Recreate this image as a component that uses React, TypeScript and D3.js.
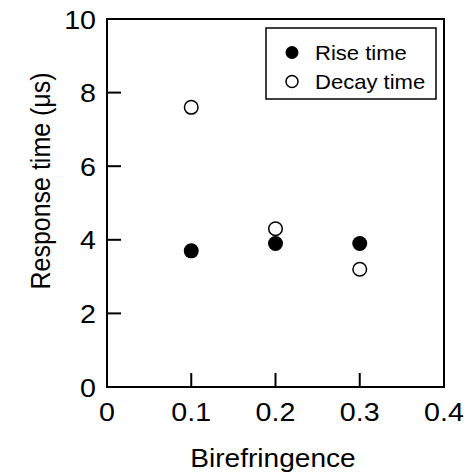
import React from "react";
import * as d3 from "d3";

const birefringence = [0.1, 0.2, 0.3];
const riseTime = [3.7, 3.9, 3.9];
const decayTime = [7.6, 4.3, 3.2];
const xTicks = [0, 0.1, 0.2, 0.3, 0.4];
const yTicks = [0, 2, 4, 6, 8, 10];
const seriesNames = ["Rise time", "Decay time"];

const W = 471;
const H = 476;
const left = 107;
const right = 444;
const top = 19;
const bottom = 387;
const FONT = "'Liberation Sans', Arial, Helvetica, sans-serif";
const SX = 1.08;

export default function App() {
  const x = d3.scaleLinear().domain([0, 0.4]).range([left, right]);
  const y = d3.scaleLinear().domain([0, 10]).range([bottom, top]);
  const tickLen = 14;
  const sw = 2;

  return (
    <svg
      width={W}
      height={H}
      style={{ position: "absolute", left: 0, top: 0, background: "#fff" }}
      fontFamily={FONT}
    >
      <rect x={0} y={0} width={W} height={H} fill="#fff" />
      {/* frame */}
      <rect
        x={left}
        y={top}
        width={right - left}
        height={bottom - top}
        fill="none"
        stroke="#000"
        strokeWidth={sw}
      />
      {/* x ticks */}
      {xTicks.map((t) => (
        <g key={"xt" + t}>
          <line x1={x(t)} x2={x(t)} y1={bottom} y2={bottom - tickLen} stroke="#000" strokeWidth={sw} />
          <text
            transform={`translate(${x(t)},421) scale(${SX},1)`}
            textAnchor="middle"
            fontSize={26.5}
            fill="#000"
          >
            {t === 0 ? "0" : d3.format(".1f")(t)}
          </text>
        </g>
      ))}
      {/* y ticks */}
      {yTicks.map((t) => (
        <g key={"yt" + t}>
          <line x1={left} x2={left + tickLen} y1={y(t)} y2={y(t)} stroke="#000" strokeWidth={sw} />
          <text
            transform={`translate(96,${y(t)}) scale(${SX},1)`}
            dy="0.36em"
            textAnchor="end"
            fontSize={26.5}
            fill="#000"
          >
            {t}
          </text>
        </g>
      ))}
      {/* axis titles */}
      <text
        transform={`translate(273,467) scale(${SX},1)`}
        textAnchor="middle"
        fontSize={26}
        fill="#000"
      >
        Birefringence
      </text>
      <text
        transform={`translate(50,181) scale(${SX},1) rotate(-90)`}
        textAnchor="middle"
        fontSize={25}
        fill="#000"
      >
        Response time (μs)
      </text>
      {/* data */}
      {birefringence.map((b, i) => (
        <circle key={"r" + i} cx={x(b)} cy={y(riseTime[i])} r={7.5} fill="#000" />
      ))}
      {birefringence.map((b, i) => (
        <circle
          key={"d" + i}
          cx={x(b)}
          cy={y(decayTime[i])}
          r={6.8}
          fill="#fff"
          stroke="#000"
          strokeWidth={1.5}
        />
      ))}
      {/* legend */}
      <rect x={266} y={28} width={170} height={71} fill="#fff" stroke="#000" strokeWidth={1.5} />
      <circle cx={292} cy={52.5} r={6.5} fill="#000" />
      <text
        transform={`translate(315,52.5) scale(1.05,1)`}
        dy="0.36em"
        fontSize={21}
        fill="#000"
      >
        {seriesNames[0]}
      </text>
      <circle cx={292} cy={81.5} r={6} fill="#fff" stroke="#000" strokeWidth={1.5} />
      <text
        transform={`translate(315,81.5) scale(1.05,1)`}
        dy="0.36em"
        fontSize={21}
        fill="#000"
      >
        {seriesNames[1]}
      </text>
    </svg>
  );
}
